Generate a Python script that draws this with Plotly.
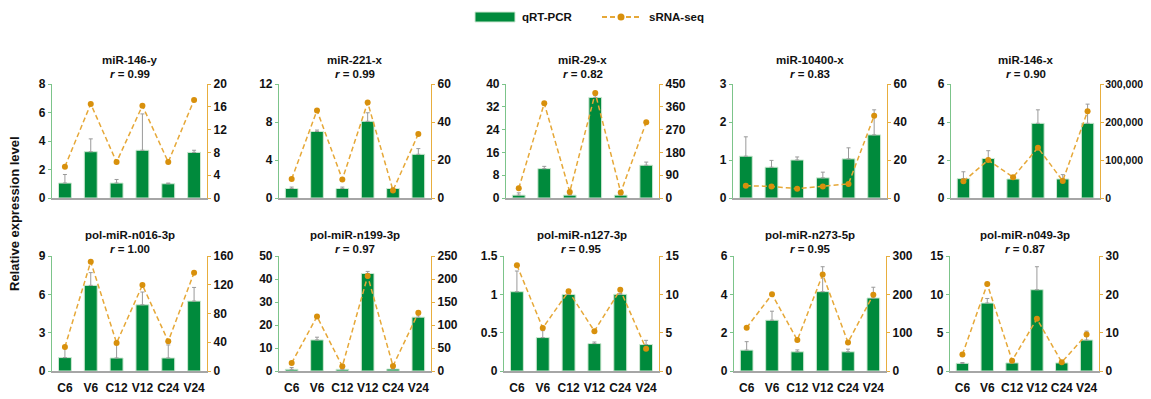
import plotly.graph_objects as go

categories = ["C6", "V6", "C12", "V12", "C24", "V24"]

names = ["miR-146-y", "miR-221-x", "miR-29-x", "miR-10400-x", "miR-146-x",
         "pol-miR-n016-3p", "pol-miR-n199-3p", "pol-miR-n127-3p", "pol-miR-n273-5p", "pol-miR-n049-3p"]
r_values = ["0.99", "0.99", "0.82", "0.83", "0.90", "1.00", "0.97", "0.95", "0.95", "0.87"]

qpcr_1 = [1.05, 3.25, 1.05, 3.35, 1.0, 3.2]
qpcr_err_1 = [0.6, 0.9, 0.25, 2.55, 0.05, 0.15]
srna_1 = [5.5, 16.5, 6.3, 16.2, 6.3, 17.2]

qpcr_2 = [1.0, 7.0, 1.0, 8.07, 1.0, 4.6]
qpcr_err_2 = [0.15, 0.15, 0.15, 0.9, 0.1, 0.6]
srna_2 = [10.0, 46.1, 9.8, 50.3, 4.0, 33.7]

qpcr_3 = [1.0, 10.3, 1.0, 35.3, 1.0, 11.5]
qpcr_err_3 = [0.8, 0.8, 0.3, 0.7, 0.3, 1.1]
srna_3 = [38, 374, 24, 414, 22, 299]

qpcr_4 = [1.1, 0.81, 1.0, 0.53, 1.03, 1.66]
qpcr_err_4 = [0.51, 0.18, 0.08, 0.15, 0.29, 0.66]
srna_4 = [6.5, 6.1, 4.9, 6.1, 7.4, 43.3]

qpcr_5 = [1.02, 2.08, 1.0, 3.93, 1.0, 3.93]
qpcr_err_5 = [0.36, 0.41, 0.05, 0.71, 0.23, 1.01]
srna_5 = [44100, 99700, 54700, 132350, 45000, 228500]

qpcr_6 = [1.05, 6.7, 1.02, 5.18, 1.02, 5.47]
qpcr_err_6 = [0.83, 1.0, 1.26, 1.0, 1.02, 1.07]
srna_6 = [33.5, 152, 39, 119.5, 41.4, 136.7]

qpcr_7 = [0.73, 13.5, 0.73, 42.4, 0.87, 23.4]
qpcr_err_7 = [0.8, 1.2, 0.3, 0.9, 0.3, 1.0]
srna_7 = [17.4, 118.5, 10.2, 206.4, 10.9, 126.5]

qpcr_8 = [1.034, 0.436, 0.999, 0.358, 1.0, 0.345]
qpcr_err_8 = [0.27, 0.09, 0.01, 0.02, 0.01, 0.055]
srna_8 = [13.8, 5.6, 10.4, 5.2, 10.6, 2.9]

qpcr_9 = [1.09, 2.65, 1.0, 4.14, 1.0, 3.81]
qpcr_err_9 = [0.44, 0.47, 0.1, 1.3, 0.14, 0.56]
srna_9 = [113, 200, 80.7, 251.8, 74.6, 199]

qpcr_10 = [1.0, 8.86, 1.05, 10.6, 1.05, 4.04]
qpcr_err_10 = [0.1, 0.6, 0.1, 3.0, 0.1, 1.16]
srna_10 = [4.3, 22.7, 2.7, 13.6, 2.3, 9.5]

qpcr = [qpcr_1, qpcr_2, qpcr_3, qpcr_4, qpcr_5, qpcr_6, qpcr_7, qpcr_8, qpcr_9, qpcr_10]
qpcr_err = [qpcr_err_1, qpcr_err_2, qpcr_err_3, qpcr_err_4, qpcr_err_5,
            qpcr_err_6, qpcr_err_7, qpcr_err_8, qpcr_err_9, qpcr_err_10]
srna = [srna_1, srna_2, srna_3, srna_4, srna_5, srna_6, srna_7, srna_8, srna_9, srna_10]

left_max = [8, 12, 40, 3, 6, 9, 50, 1.5, 6, 15]
left_dtick = [2, 4, 8, 1, 2, 3, 10, 0.5, 2, 5]
right_max = [20, 60, 450, 60, 300000, 160, 250, 15, 300, 30]
right_dtick = [4, 20, 90, 20, 100000, 40, 50, 5, 100, 10]

legend_labels = ["qRT-PCR", "sRNA-seq"]

# page body has an 8px margin: draw the figure 8px smaller and map window pixels to paper
OFF = 8
FW, FH = 1151 - OFF, 399 - OFF


def fx(p):
    return (p - OFF) / FW


def fy(p):
    return 1 - (p - OFF) / FH


x_px = [(52, 207), (279, 431), (506, 659), (733, 887), (951, 1100),
        (52, 207), (279, 431), (504, 659), (734, 886), (950, 1099)]
y_px = [(84, 198)] * 5 + [(256, 371)] * 5

FONT = "Arial, Liberation Sans, sans-serif"
BAR_COLOR = "#008A3C"
LINE_COLOR = "#E6A838"
MARK_COLOR = "#D8900C"
LEFT_AX = "#7CC48A"
RIGHT_AX = "#E8AE3E"
TXT = "#111111"

fig = go.Figure()
layout = {}
annotations = []
shapes = []

for i in range(10):
    n = i + 1
    ya = 2 * i + 1
    yb = 2 * i + 2
    fig.add_trace(go.Bar(
        x=categories, y=qpcr[i], width=0.5,
        marker=dict(color=BAR_COLOR, line=dict(color="#CFE8D2", width=1)),
        error_y=dict(type="data", array=qpcr_err[i], arrayminus=[0] * 6, symmetric=False,
                     color="#9A9A9A", thickness=1, width=2),
        name=legend_labels[0], showlegend=False,
        xaxis=f"x{n}", yaxis=f"y{ya}"))
    fig.add_trace(go.Scatter(
        x=categories, y=srna[i], mode="lines+markers",
        line=dict(color=LINE_COLOR, width=1.5, dash="5px,3px"),
        marker=dict(color=MARK_COLOR, size=6),
        name=legend_labels[1], showlegend=False,
        xaxis=f"x{n}", yaxis=f"y{yb}"))

    x0, x1 = x_px[i]
    y0, y1 = y_px[i]
    xd = [fx(x0), fx(x1)]
    yd = [fy(y1), fy(y0)]
    bottom = i >= 5
    big = right_max[i] >= 100000
    layout[f"xaxis{n}"] = dict(
        domain=xd, anchor=f"y{ya}", type="category", range=[-0.5, 5.5],
        showline=True, linecolor="#A6A6A6", linewidth=1.5,
        ticks="outside", ticklen=5, tickcolor="rgba(0,0,0,0)",
        showticklabels=bottom, showgrid=False, zeroline=False,
        tickfont=dict(family=FONT, size=12, color=TXT, weight="bold"))
    layout[f"yaxis{ya}"] = dict(
        domain=yd, anchor=f"x{n}", range=[0, left_max[i]], dtick=left_dtick[i], tick0=0,
        showline=True, linecolor=LEFT_AX, linewidth=1.2, ticks="outside", ticklen=3,
        tickcolor=LEFT_AX, showgrid=False, zeroline=False,
        tickfont=dict(family=FONT, size=12, color=TXT, weight="bold"))
    layout[f"yaxis{yb}"] = dict(
        overlaying=f"y{ya}", side="right", anchor=f"x{n}",
        range=[0, right_max[i]], dtick=right_dtick[i], tick0=0, tickformat=",d",
        showline=True, linecolor=RIGHT_AX, linewidth=1.2, ticks="outside", ticklen=3,
        tickcolor=RIGHT_AX, showgrid=False, zeroline=False,
        ticklabelstandoff=(-1 if big else 0),
        tickfont=dict(family=FONT, size=(10.5 if big else 12), color=TXT, weight="bold"))

    cx = fx((x0 + x1) / 2)
    ty = (y0 - 24) if not bottom else (y0 - 21)
    annotations.append(dict(
        x=cx, y=fy(ty), xref="paper", yref="paper", text=f"<b>{names[i]}</b>",
        showarrow=False, font=dict(family=FONT, size=11.5, color=TXT),
        xanchor="center", yanchor="middle"))
    annotations.append(dict(
        x=cx, y=fy(ty + 14), xref="paper", yref="paper",
        text=f"<b><i>r</i> = {r_values[i]}</b>",
        showarrow=False, font=dict(family=FONT, size=11.5, color=TXT),
        xanchor="center", yanchor="middle"))

annotations.append(dict(
    x=fx(15), y=fy(214), xref="paper", yref="paper", text="<b>Relative expression level</b>",
    textangle=-90, showarrow=False, font=dict(family=FONT, size=13, color=TXT),
    xanchor="center", yanchor="middle"))

# legend (key shapes + real text)
ly = fy(17)
shapes.append(dict(type="rect", xref="paper", yref="paper",
                   x0=fx(475), x1=fx(515), y0=fy(22), y1=fy(12),
                   fillcolor=BAR_COLOR, line=dict(color="#CFE8D2", width=1)))
annotations.append(dict(x=fx(520), y=ly, xref="paper", yref="paper",
                        text=f"<b>{legend_labels[0]}</b>", showarrow=False,
                        font=dict(family=FONT, size=11.5, color=TXT),
                        xanchor="left", yanchor="middle"))
shapes.append(dict(type="line", xref="paper", yref="paper",
                   x0=fx(602), x1=fx(640), y0=ly, y1=ly,
                   line=dict(color=LINE_COLOR, width=2, dash="5px,3px")))
shapes.append(dict(type="circle", xref="paper", yref="paper",
                   x0=fx(617.5), x1=fx(624.5), y0=fy(20.5), y1=fy(13.5),
                   fillcolor=MARK_COLOR, line=dict(color=MARK_COLOR, width=0)))
annotations.append(dict(x=fx(647), y=ly, xref="paper", yref="paper",
                        text=f"<b>{legend_labels[1]}</b>", showarrow=False,
                        font=dict(family=FONT, size=11.5, color=TXT),
                        xanchor="left", yanchor="middle"))

fig.update_layout(
    width=FW, height=FH, margin=dict(l=0, r=0, t=0, b=0, autoexpand=False),
    paper_bgcolor="white", plot_bgcolor="white",
    font=dict(family=FONT, color=TXT),
    showlegend=False,
    annotations=annotations, shapes=shapes,
    **layout)

fig.write_html("out.html")
